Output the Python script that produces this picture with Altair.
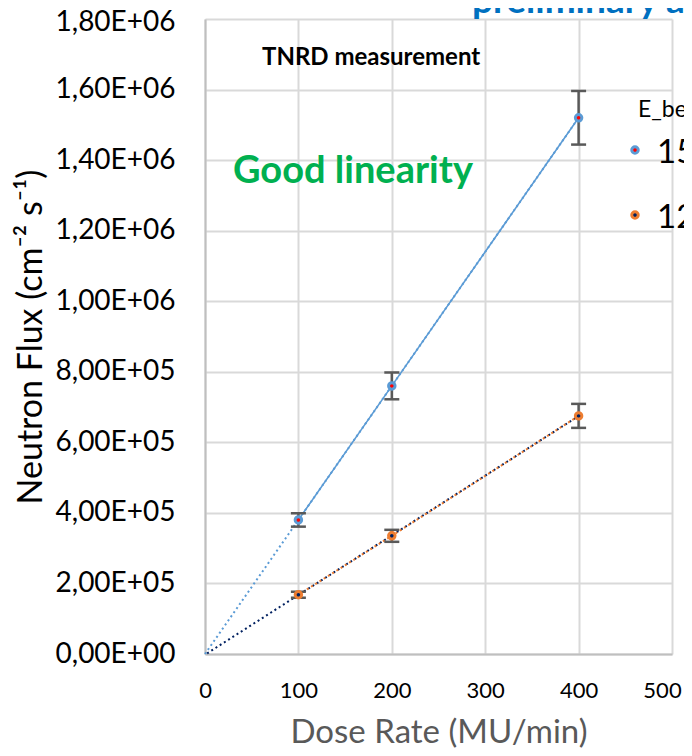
import altair as alt
import pandas as pd

# ---------------- data ----------------
DOSE = [100, 200, 400]
FLUX_15 = [3.80e5, 7.60e5, 1.52e6]
ERR_15 = [1.9e4, 3.8e4, 7.6e4]
FLUX_12 = [1.68e5, 3.35e5, 6.75e5]
ERR_12 = [0.85e4, 1.7e4, 3.4e4]
SERIES = ["15 MeV", "12 MeV"]
LEGEND_TITLE = "E_beam"
X_TICKS = [0, 100, 200, 300, 400, 500]
Y_TICKS = [0, 2e5, 4e5, 6e5, 8e5, 1.0e6, 1.2e6, 1.4e6, 1.6e6, 1.8e6]
X_TITLE = "Dose Rate (MU/min)"
Y_TITLE = "Neutron Flux (cm\u207b\u00b2 s\u207b\u00b9)"
NOTE_1 = "TNRD measurement"
NOTE_2 = "Good linearity"
TOP_NOTE = "preliminary analysis"

# ---------------- styles ----------------
FONT = "Lato"
BLUE = "#5B9BD5"
RED = "#FF0000"
ORANGE = "#ED7D31"
NAVY = "#002060"
ERR_COL = "#595959"
GRID = "#D9D9D9"
AXIS_COL = "#BFBFBF"

W, H = 467, 635


def frame(flux, err, name):
    df = pd.DataFrame({"dose": DOSE, "flux": flux, "err": err})
    df["series"] = name
    return df


d15 = frame(FLUX_15, ERR_15, SERIES[0])
d12 = frame(FLUX_12, ERR_12, SERIES[1])

x_scale = alt.Scale(domain=[0, 500], nice=False)
y_scale = alt.Scale(domain=[0, 1.8e6], nice=False)

EXP = "floor(log(datum.value) / LN10 + 1e-9)"
Y_LABEL_EXPR = (
    "datum.value == 0 ? '0,00E+00' : "
    f"replace(format(datum.value / pow(10, {EXP}), '.2f'), '.', ',') + 'E+' + "
    f"({EXP} < 10 ? '0' : '') + toString({EXP})"
)

x_axis = alt.Axis(
    values=X_TICKS, title=X_TITLE, labelFontSize=22, labelColor="black",
    labelPadding=26, tickSize=0, labelFlush=False, labelOverlap=False,
    labelOffset={"condition": {"test": "datum.value == 500", "value": -10}, "value": 0},
    titleFontSize=33, titleFontWeight="normal", titleColor="#595959",
    titlePadding=15, domainColor=AXIS_COL, domainWidth=2,
    gridColor=GRID, gridWidth=2, labelFont=FONT, titleFont=FONT,
)
y_axis = alt.Axis(
    values=Y_TICKS, title=Y_TITLE, labelExpr=Y_LABEL_EXPR, labelFontSize=28,
    labelColor="black", labelPadding=30, tickSize=0, labelFlush=False,
    labelOverlap=False,
    labelOffset={"condition": {"test": "datum.value >= 1800000", "value": 3}, "value": 0},
    titleFontSize=34, titleFontWeight="normal",
    titleColor="black", titlePadding=7, domainColor=AXIS_COL, domainWidth=2,
    gridColor=GRID, gridWidth=2, labelFont=FONT, titleFont=FONT,
)


def X(field="dose"):
    return alt.X(f"{field}:Q", scale=x_scale, axis=x_axis)


def Y(field="flux"):
    return alt.Y(f"{field}:Q", scale=y_scale, axis=y_axis)


def series_layers(df, ring, center, line_style, trend_color, trend_dash, trend_offset):
    base = alt.Chart(df)
    trend = base.transform_regression("dose", "flux", extent=[0, 400]).mark_line(
        color=trend_color, strokeWidth=2, strokeDash=trend_dash,
        strokeDashOffset=trend_offset,
    ).encode(x=X(), y=Y())
    line = base.mark_line(color=ring, **line_style).encode(x=X(), y=Y())
    withbounds = base.transform_calculate(
        lo="datum.flux - datum.err", hi="datum.flux + datum.err"
    )
    rule = withbounds.mark_rule(color=ERR_COL, strokeWidth=2.5).encode(
        x=X(), y=Y("lo"), y2="hi:Q"
    )
    cap_lo = withbounds.mark_tick(
        orient="horizontal", color=ERR_COL, size=15, thickness=2.5, opacity=1
    ).encode(x=X(), y=Y("lo"))
    cap_hi = withbounds.mark_tick(
        orient="horizontal", color=ERR_COL, size=15, thickness=2.5, opacity=1
    ).encode(x=X(), y=Y("hi"))
    pts = base.mark_point(
        shape="circle", filled=True, fill=center, stroke=ring, strokeWidth=3,
        size=42, opacity=1,
    ).encode(x=X(), y=Y())
    return [trend, line, rule, cap_lo, cap_hi, pts]


layers = []
layers += series_layers(
    d15, BLUE, RED, {"strokeWidth": 1.6}, BLUE, [2, 3], 0
)
layers += series_layers(
    d12, ORANGE, NAVY, {"strokeWidth": 2, "strokeDash": [2, 3]}, NAVY, [2, 3], 2.5
)

note1 = alt.Chart(pd.DataFrame({"t": [NOTE_1]})).mark_text(
    align="left", baseline="middle", font=FONT, fontSize=24, fontWeight="bold",
    color="black",
).encode(text="t:N", x=alt.value(57), y=alt.value(39))
note2 = alt.Chart(pd.DataFrame({"t": [NOTE_2]})).mark_text(
    align="left", baseline="middle", font=FONT, fontSize=38, fontWeight="bold",
    color="#00B050",
).encode(text="t:N", x=alt.value(28), y=alt.value(153))
top = alt.Chart(pd.DataFrame({"t": [TOP_NOTE]})).mark_text(
    align="left", baseline="alphabetic", font=FONT, fontSize=37, fontWeight="bold",
    color="#0070C0",
).encode(text="t:N", x=alt.value(267), y=alt.value(-6))

leg_title = alt.Chart(pd.DataFrame({"t": [LEGEND_TITLE]})).mark_text(
    align="left", baseline="middle", font=FONT, fontSize=23, color="black",
).encode(text="t:N", x=alt.value(433), y=alt.value(91))

leg = []
for name, ring, center, ypos in [(SERIES[0], BLUE, RED, 131), (SERIES[1], ORANGE, NAVY, 196)]:
    dfl = pd.DataFrame({"t": [name]})
    leg.append(alt.Chart(dfl).mark_point(
        shape="circle", filled=True, fill=center, stroke=ring, strokeWidth=3,
        size=42, opacity=1,
    ).encode(x=alt.value(430), y=alt.value(ypos)))
    leg.append(alt.Chart(dfl).mark_text(
        align="left", baseline="middle", font=FONT, fontSize=33, color="black",
    ).encode(text="t:N", x=alt.value(452), y=alt.value(ypos + 3)))

chart = alt.layer(*layers, note1, note2, top, leg_title, *leg).properties(
    width=W, height=H,
    autosize=alt.AutoSizeParams(type="none"),
    padding={"left": 197, "top": 11, "right": 12, "bottom": 94},
).configure(font=FONT).configure_view(strokeWidth=0)

chart.save("out.html", embed_options={"renderer": "svg", "actions": False})
